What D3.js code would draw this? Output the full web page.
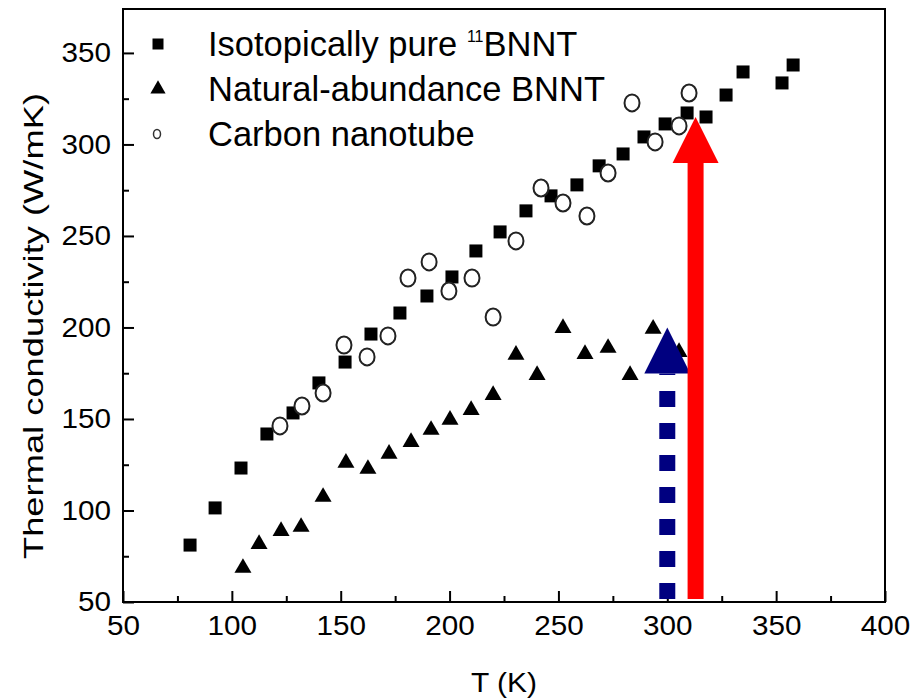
<!DOCTYPE html>
<html>
<head>
<meta charset="utf-8">
<script src="https://cdn.jsdelivr.net/npm/d3@7"></script>
<style>
  body { margin: 0; background: #fff; }
  svg text { font-family: "Liberation Sans", Arial, sans-serif; fill: #000; }
</style>
</head>
<body>
<div id="chart"></div>
<script>
// isotopically pure 11BNNT (squares)
const pureT = [80.8, 92.3, 104.2, 116.1, 128.1, 140.0, 152.0, 163.9, 177.2, 189.6, 201.1, 212.1,
  223.2, 235.1, 246.6, 258.5, 268.7, 279.7, 289.3, 299.0, 309.1, 317.8, 327.0, 334.8, 352.7, 357.8];
const pureK = [81.1, 101.4, 123.2, 141.8, 153.3, 169.7, 181.1, 196.4, 207.9, 217.2, 227.6, 241.8,
  252.2, 263.7, 271.9, 277.9, 288.3, 294.8, 304.1, 311.2, 317.2, 315.0, 327.0, 339.6, 333.6, 343.4];

// natural-abundance BNNT (triangles)
const natT = [105.1, 112.5, 122.6, 131.8, 141.9, 152.4, 162.5, 172.2, 182.3, 191.5, 200.2, 209.9,
  220.0, 230.5, 240.2, 252.1, 262.2, 272.8, 282.9, 293.5, 305.4];
const natK = [68.6, 81.7, 88.8, 91.0, 107.4, 126.0, 122.7, 130.9, 137.4, 144.0, 149.5, 154.9,
  163.1, 185.0, 174.0, 199.7, 185.5, 188.8, 174.0, 199.2, 186.6];

// carbon nanotube (open circles)
const cntT = [122.1, 132.2, 141.9, 151.5, 162.1, 171.7, 180.9, 190.6, 199.7, 210.3, 220.0, 230.5,
  242.0, 252.1, 263.1, 272.8, 283.8, 294.4, 305.4, 310.0];
const cntK = [146.2, 157.1, 164.2, 190.4, 183.9, 195.4, 227.0, 235.8, 219.9, 227.0, 205.7, 247.3,
  276.2, 268.0, 260.9, 284.4, 322.7, 301.4, 310.1, 328.1];

// annotation arrows: temperature and tip value
const arrowT = [300, 313];
const arrowTip = [200, 315];
const arrowColor = ["#000080", "#ff0000"];
const arrowDashed = [true, false];

const xTicks = [50, 100, 150, 200, 250, 300, 350, 400];
const xMinor = [75, 125, 175, 225, 275, 325, 375];
const yTicks = [50, 100, 150, 200, 250, 300, 350];
const yMinor = [75, 125, 175, 225, 275, 325];

const legendLabels = ["Isotopically pure ", "Natural-abundance BNNT", "Carbon nanotube"];

const width = 913, height = 698;
const margin = {top: 9, right: 28, bottom: 96, left: 123};
const w = width - margin.left - margin.right;
const h = height - margin.top - margin.bottom;

const svg = d3.select("#chart").append("svg")
  .attr("width", width)
  .attr("height", height);

const chart = svg.append("g")
  .attr("transform", `translate(${margin.left},${margin.top})`);

const x = d3.scaleLinear().domain([50, 400]).range([0, w]);
const y = d3.scaleLinear().domain([50, 374]).range([h, 0]);

// axes, ticks pointing inward
chart.append("g")
  .attr("transform", `translate(0,${h})`)
  .call(d3.axisBottom(x).tickValues(xTicks).tickSize(-11).tickPadding(14).tickFormat(d3.format("d")));
chart.append("g")
  .attr("transform", `translate(0,${h})`)
  .call(d3.axisBottom(x).tickValues(xMinor).tickSize(-6).tickFormat(""));

chart.append("g")
  .call(d3.axisLeft(y).tickValues(yTicks).tickSize(-11).tickPadding(12).tickFormat(d3.format("d")));
chart.append("g")
  .call(d3.axisLeft(y).tickValues(yMinor).tickSize(-6).tickFormat(""));

chart.selectAll(".domain").remove();
chart.selectAll(".tick line").attr("stroke", "#000").attr("stroke-width", 2);
// the original type is a bit wider than Arial
chart.selectAll(".tick text")
  .style("font-size", "27px")
  .attr("textLength", function() { return this.textContent.length * 16.5; })
  .attr("lengthAdjust", "spacingAndGlyphs");

chart.append("rect")
  .attr("width", w)
  .attr("height", h)
  .attr("fill", "none")
  .attr("stroke", "#000")
  .attr("stroke-width", 2);

// axis titles
svg.append("text")
  .attr("x", margin.left + w / 2)
  .attr("y", 692)
  .attr("text-anchor", "middle")
  .attr("textLength", 66)
  .attr("lengthAdjust", "spacingAndGlyphs")
  .style("font-size", "28px")
  .text("T (K)");

svg.append("text")
  .attr("transform", "translate(43,326) rotate(-90)")
  .attr("text-anchor", "middle")
  .attr("textLength", 466)
  .attr("lengthAdjust", "spacingAndGlyphs")
  .style("font-size", "28px")
  .text("Thermal conductivity (W/mK)");

// data
const pure = pureT.map((t, i) => ({t, k: pureK[i]}));
const nat = natT.map((t, i) => ({t, k: natK[i]}));
const cnt = cntT.map((t, i) => ({t, k: cntK[i]}));

chart.selectAll(".sq")
  .data(pure)
  .join("path")
    .attr("class", "sq")
    .attr("d", d3.symbol(d3.symbolSquare, 169))
    .attr("transform", d => `translate(${x(d.t)},${y(d.k)})`)
    .attr("fill", "#000");

chart.selectAll(".tri")
  .data(nat)
  .join("path")
    .attr("class", "tri")
    .attr("d", d3.symbol(d3.symbolTriangle, 125))
    .attr("transform", d => `translate(${x(d.t)},${y(d.k)})`)
    .attr("fill", "#000");

chart.selectAll(".circ")
  .data(cnt)
  .join("ellipse")
    .attr("class", "circ")
    .attr("cx", d => x(d.t))
    .attr("cy", d => y(d.k))
    .attr("rx", 7.5)
    .attr("ry", 8.5)
    .attr("fill", "#fff")
    .attr("stroke", "#222")
    .attr("stroke-width", 2);

// arrows
const arrows = arrowT.map((t, i) => ({t, tip: arrowTip[i], color: arrowColor[i], dashed: arrowDashed[i]}));
const headW = 46, headH = 46, shaftW = 16;

arrows.forEach(a => {
  const ax = x(a.t);
  const tipY = y(a.tip);
  const baseY = tipY + headH;
  chart.append("line")
    .attr("x1", ax).attr("x2", ax)
    .attr("y1", h - 3).attr("y2", baseY)
    .attr("stroke", a.color)
    .attr("stroke-width", shaftW)
    .attr("stroke-dasharray", a.dashed ? "16,16" : null);
  chart.append("path")
    .attr("d", `M${ax},${tipY}L${ax + headW / 2},${baseY}L${ax - headW / 2},${baseY}Z`)
    .attr("fill", a.color);
});

// legend
const legend = svg.append("g");
const rowY = [56, 101, 146];
legendLabels.forEach((lab, i) => {
  const t = legend.append("text")
    .attr("x", 208)
    .attr("y", rowY[i])
    .style("font-size", "34.5px")
    .text(lab);
  if (i === 0) {
    t.append("tspan").attr("dy", -14).style("font-size", "16px").text("11");
    t.append("tspan").attr("dy", 14).text("BNNT");
  }
});
legend.append("path")
  .attr("d", d3.symbol(d3.symbolSquare, 121))
  .attr("transform", `translate(158,${rowY[0] - 12})`);
legend.append("path")
  .attr("d", d3.symbol(d3.symbolTriangle, 100))
  .attr("transform", `translate(158,${rowY[1] - 12})`);
legend.append("ellipse")
  .attr("cx", 157).attr("cy", rowY[2] - 12)
  .attr("rx", 3.5).attr("ry", 4.5)
  .attr("fill", "#fff").attr("stroke", "#333").attr("stroke-width", 1.5);
</script>
</body>
</html>
